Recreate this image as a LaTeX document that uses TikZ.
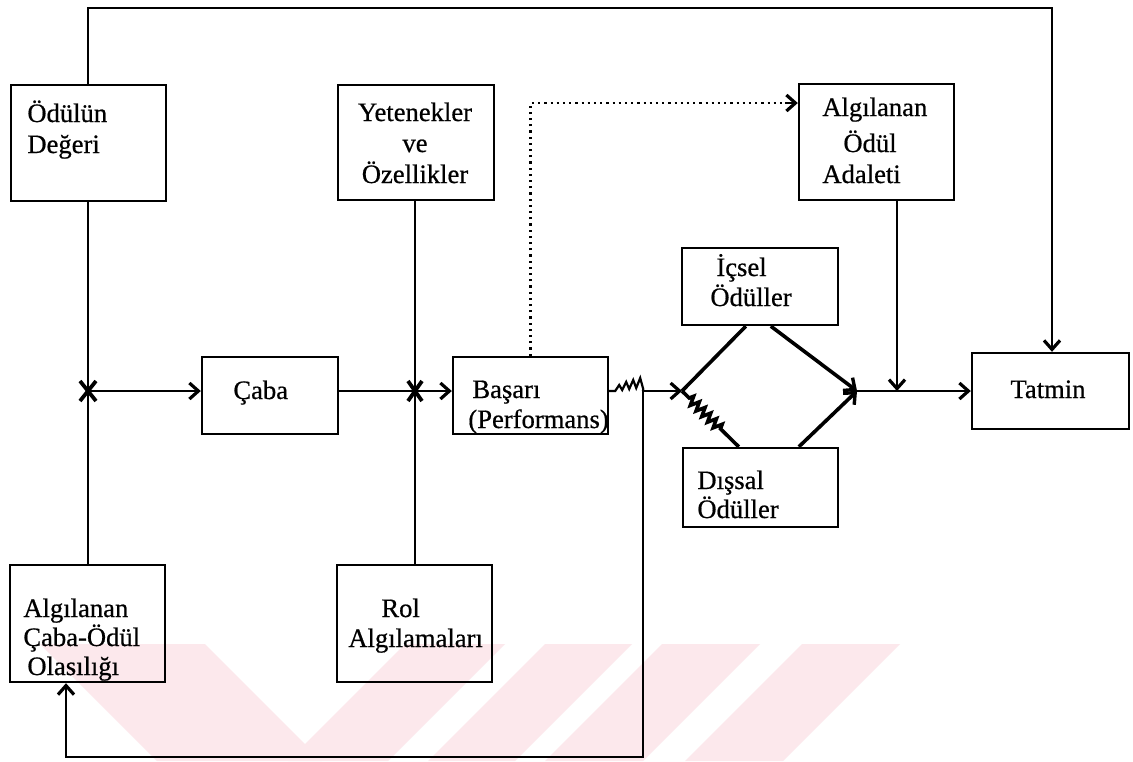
\documentclass[tikz,border=0pt]{standalone}
\usepackage{fontspec}
\setmainfont{Liberation Serif}[FakeBold=0.6]
\usetikzlibrary{arrows.meta, decorations.pathmorphing, calc}
\definecolor{wmpink}{RGB}{252,232,236}
\begin{document}
\begin{tikzpicture}[x=0.5pt, y=-0.5pt,
  box/.style={draw, line width=1.2pt, inner sep=0, rectangle},
  lbl/.style={inner sep=0, anchor=base west, font=\fontsize{13.3}{15}\selectfont},
  clbl/.style={lbl, anchor=base},
  conn/.style={line width=1.1pt},
  arr/.style={conn, -{Straight Barb[length=4.5pt,width=8pt,line width=1.6pt]}},
  heavy/.style={line width=1.8pt},
  heavyarr/.style={heavy, -{Straight Barb[length=4.5pt,width=8pt,line width=1.7pt]}},
  wm/.style={fill=wmpink, draw=none}]
\useasboundingbox (0,0) rectangle (1133,761);
\fill[white] (0,0) rectangle (1133,761);
% watermark
\fill[wm] (40,644) -- (205,644) -- (322,761) -- (157,761) -- cycle;
\fill[wm] (405,644) -- (505,644) -- (388,761) -- (288,761) -- cycle;
\fill[wm] (545,644) -- (632,644) -- (515,761) -- (428,761) -- cycle;
\fill[wm] (662,644) -- (760,644) -- (643,761) -- (545,761) -- cycle;
\fill[wm] (802,644) -- (900,644) -- (783,761) -- (685,761) -- cycle;

% boxes
\node[box, minimum width=77.5pt, minimum height=58pt] (odul) at (88.5,143) {};
\node[box, minimum width=78pt, minimum height=57.5pt] (yet) at (416,142.5) {};
\node[box, minimum width=77.5pt, minimum height=58pt] (adalet) at (876.5,142) {};
\node[box, minimum width=68pt, minimum height=38.5pt] (caba) at (270,395.5) {};
\node[box, minimum width=77.5pt, minimum height=38.5pt] (basari) at (530.5,395.5) {};
\node[box, minimum width=78pt, minimum height=38.5pt] (icsel) at (760,286.5) {};
\node[box, minimum width=77.5pt, minimum height=39.5pt] (dissal) at (760.5,487.5) {};
\node[box, minimum width=78.5pt, minimum height=38pt] (tatmin) at (1050.5,391) {};
\node[box, minimum width=77.5pt, minimum height=58.5pt] (olas) at (87.5,623.5) {};
\node[box, minimum width=77.5pt, minimum height=58.5pt] (rol) at (414.5,623.5) {};

% texts
\node[lbl] (t1a) at (27,122) {Ödülün};
\node[lbl] (t1b) at (27,153) {Değeri};
\node[clbl] (t2a) at (415,121) {Yetenekler};
\node[clbl] (t2b) at (415,152) {ve};
\node[clbl] (t2c) at (415,183) {Özellikler};
\node[lbl] (t3a) at (822,116) {Algılanan};
\node[lbl] (t3b) at (843,152) {Ödül};
\node[lbl] (t3c) at (822,183) {Adaleti};
\node[lbl] (t4) at (233,399) {Çaba};
\node[lbl] (t5a) at (472,398) {Başarı};
\node[lbl] (t5b) at (468,428) {(Performans)};
\node[lbl] (t6a) at (716,276) {İçsel};
\node[lbl] (t6b) at (710,306) {Ödüller};
\node[lbl] (t7a) at (697,489) {Dışsal};
\node[lbl] (t7b) at (697,518) {Ödüller};
\node[clbl] (t8) at (1048,398) {Tatmin};
\node[lbl] (t9a) at (23,617) {Algılanan};
\node[lbl] (t9b) at (23,646) {Çaba-Ödül};
\node[lbl] (t9c) at (27,675) {Olasılığı};
\node[lbl] (t10a) at (381,617) {Rol};
\node[lbl] (t10b) at (348,647) {Algılamaları};

% coordinates
\coordinate (c1) at (88,391);
\coordinate (c2) at (415,391);
\coordinate (fb) at (643,391);
\coordinate (L) at (682,391);
\coordinate (R) at (857,391);
\coordinate (topy) at (0,8);
\coordinate (topx) at (1052,8);
\coordinate (doty) at (0,103);
\coordinate (fbend) at (66,757);

% top loop to Tatmin
\draw[arr] (odul.north -| c1) -- (c1 |- topy) -- (topx) -- (topx |- tatmin.north);
% Ödülün vertical
\draw[conn] (odul.south -| c1) -- (c1 |- olas.north);
% Yetenekler vertical
\draw[conn] (yet.south -| c2) -- (c2 |- rol.north);
% crosses
\draw[line width=1.9pt] ($(c1)+(-8,-10)$) -- ($(c1)+(8,10)$);
\draw[line width=1.9pt] ($(c1)+(8,-10)$) -- ($(c1)+(-8,10)$);
\draw[line width=1.9pt] ($(c2)+(-7,-10)$) -- ($(c2)+(7,10)$);
\draw[line width=1.9pt] ($(c2)+(7,-10)$) -- ($(c2)+(-7,10)$);
% main line
\draw[arr] (c1) -- (c1 -| caba.west);
\draw[conn] (caba.east |- c2) -- (c2);
\draw[arr] (c2) -- (c2 -| basari.west);
% squiggle after Başarı
\draw[conn] (basari.east |- fb) -- ++(6,0) -- ++(4,-6) -- ++(3,5) -- ++(4,-8) -- ++(3,7) -- ++(4,-9) -- ++(3,8) -- ++(4,-10) -- ++(3,11) -- (fb);
\draw[arr] (fb) -- (L);
% feedback loop
\draw[arr] (fb) -- (fb |- fbend) -- (fbend) -- (fbend |- olas.south);
% dotted line
\draw[dotted, line width=1.1pt] (basari.north) -- (basari.north |- doty) -- ($(adalet.west |- doty)+(-12,0)$);
\draw[arr] ($(adalet.west |- doty)+(-13,0)$) -- (adalet.west |- doty);
% diamond
\draw[heavy] (L) -- ([xshift=32.5pt]icsel.south west);
\draw[heavyarr] ([xshift=45pt]icsel.south west) -- (R);
\draw[heavyarr] ([xshift=58.5pt]dissal.north west) -- (R);
\draw[heavy, decoration={zigzag, amplitude=2.2pt, segment length=4pt, pre length=5pt, post length=12pt}, decorate] (L) -- ([xshift=28.5pt]dissal.north west);
% to Tatmin
\draw[arr] (R) -- (R -| tatmin.west);
\draw[arr] (adalet.south -| 897,0) -- (897,391);
\end{tikzpicture}
\end{document}
